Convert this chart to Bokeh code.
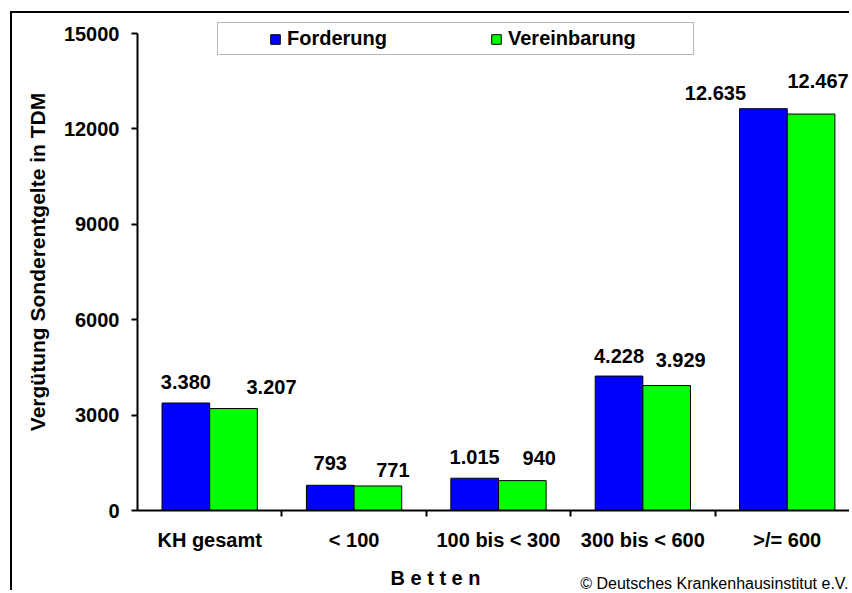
from bokeh.plotting import figure
from bokeh.models import (ColumnDataSource, FixedTicker, LinearAxis, Range1d,
                          LabelSet, Label, Legend, LegendItem)
from bokeh.core.properties import value
from bokeh.transform import dodge
from bokeh.embed import file_html
from bokeh.resources import INLINE

# ---- data ----
categories = ["KH gesamt", "< 100", "100 bis < 300", "300 bis < 600", ">/= 600"]
forderung = [3380, 793, 1015, 4228, 12635]
vereinbarung = [3207, 771, 940, 3929, 12467]
y_ticks = [0, 3000, 6000, 9000, 12000, 15000]
y_max = 15000
series_names = ["Forderung", "Vereinbarung"]
y_title = "Vergütung Sonderentgelte in TDM"
x_title = "B e t t e n"
credit = "© Deutsches Krankenhausinstitut e.V."

# ---- label placement (pixel nudges, as in the original layout) ----
f_dx = [0, 0, 0, 0, -48]
f_dy = [14, 15, 14, 13, 9]
v_dx = [38, 15, 17, 14, 7]
v_dy = [15, 9, 16, 19, 26]


def de(v):
    return f"{v:,}".replace(",", ".")


idx = list(range(len(categories)))
src = ColumnDataSource(dict(
    x=idx, f=forderung, v=vereinbarung,
    fl=[de(v) for v in forderung], vl=[de(v) for v in vereinbarung],
    fdx=f_dx, fdy=f_dy, vdx=v_dx, vdy=v_dy))

FONT = "Liberation Sans"
BLUE = "#0000FF"
GREEN = "#00FF00"

W, H = 839, 579
p = figure(width=W, height=H, output_backend="svg", toolbar_location=None,
           x_range=Range1d(-0.5, 4.445), y_range=Range1d(0, y_max * (1 + 20 / 477)),
           min_border_left=125, min_border_right=0, min_border_top=0,
           min_border_bottom=82, x_axis_type=None, y_axis_type=None,
           background_fill_color="white", border_fill_color="white")
p.outline_line_color = None
p.styles = {"margin-left": "10px", "margin-top": "11px",
            "border-left": "2px solid black", "border-top": "2px solid black"}

off = 0.165
bw = 0.33
r1 = p.vbar(x=dodge("x", -off, range=p.x_range), top="f", width=bw, source=src,
            fill_color=BLUE, line_color="black", line_width=1)
r2 = p.vbar(x=dodge("x", off, range=p.x_range), top="v", width=bw, source=src,
            fill_color=GREEN, line_color="black", line_width=1)

lab_kw = dict(source=src, text_align="center", text_baseline="bottom",
              text_font=value(FONT), text_font_style="bold",
              text_font_size="20px", text_color="black")
p.add_layout(LabelSet(x=dodge("x", -off, range=p.x_range), y="f", text="fl",
                      x_offset="fdx", y_offset="fdy", **lab_kw))
p.add_layout(LabelSet(x=dodge("x", off, range=p.x_range), y="v", text="vl",
                      x_offset="vdx", y_offset="vdy", **lab_kw))

# y axis
yax = LinearAxis(ticker=FixedTicker(ticks=y_ticks), axis_label=y_title, bounds=(0, y_max))
yax.axis_line_width = 2
yax.major_tick_line_width = 2
yax.major_tick_out = 6
yax.major_tick_in = 0
yax.minor_tick_line_color = None
yax.major_label_standoff = 12
yax.major_label_text_font = FONT
yax.major_label_text_font_style = "bold"
yax.major_label_text_font_size = "20px"
yax.major_label_text_color = "black"
yax.axis_label_text_font = FONT
yax.axis_label_text_font_style = "bold"
yax.axis_label_text_font_size = "21px"
yax.axis_label_text_color = "black"
yax.axis_label_standoff = 12
p.add_layout(yax, "left")

# x axis: labels at centers, tick marks between categories
xax = LinearAxis(ticker=FixedTicker(ticks=idx, minor_ticks=[i + 0.5 for i in idx[:-1]]),
                 major_label_overrides={i: c for i, c in zip(idx, categories)})
xax.axis_line_width = 2
xax.major_tick_line_color = None
xax.major_tick_out = 0
xax.major_tick_in = 0
xax.minor_tick_line_width = 2
xax.minor_tick_line_color = "black"
xax.minor_tick_out = 6
xax.minor_tick_in = 0
xax.major_label_standoff = 12
xax.major_label_text_font = FONT
xax.major_label_text_font_style = "bold"
xax.major_label_text_font_size = "20px"
xax.major_label_text_color = "black"
p.add_layout(xax, "below")

p.add_layout(Label(x=421, y=551, x_units="canvas", y_units="canvas", text=x_title,
                   text_align="center", text_baseline="top", text_font=FONT,
                   text_font_style="bold", text_font_size="20px", text_color="black"),
             "below")
p.add_layout(Label(x=834, y=559, x_units="canvas", y_units="canvas", text=credit,
                   text_align="right", text_baseline="top", text_font=FONT,
                   text_font_size="16px", text_color="black"), "below")

legend = Legend(items=[LegendItem(label=series_names[0], renderers=[r1]),
                       LegendItem(label=series_names[1], renderers=[r2])],
                orientation="horizontal", location=(80, 455), margin=0, padding=4,
                spacing=22, label_width=181, glyph_width=12, glyph_height=12,
                label_standoff=6, title=" ", title_location="left",
                title_text_font_size="1px", title_standoff=46,
                border_line_color="#707070", border_line_width=1.5,
                background_fill_color="white", background_fill_alpha=1,
                label_text_font=FONT, label_text_font_style="bold",
                label_text_font_size="20px", label_text_color="black")
p.add_layout(legend)

open("out.html", "w").write(file_html(p, INLINE))
